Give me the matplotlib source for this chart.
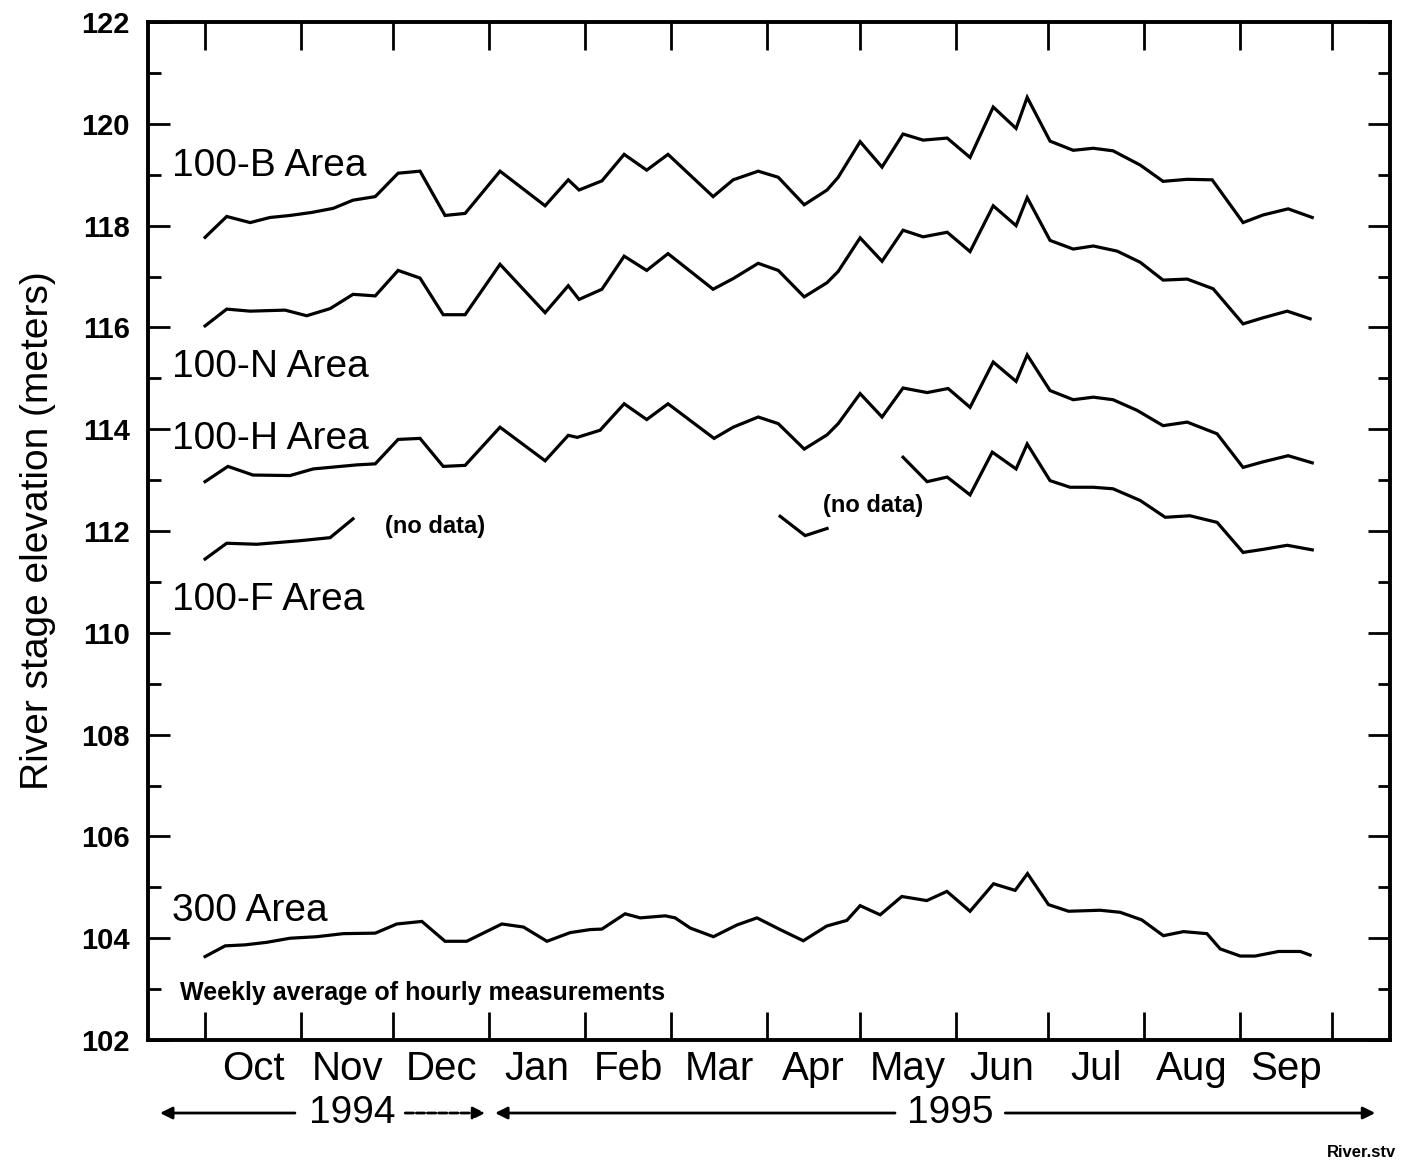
from datetime import date
import numpy as np
import matplotlib
matplotlib.use("Agg")
import matplotlib.pyplot as plt
from matplotlib.ticker import FixedLocator, MultipleLocator

plt.rcParams['font.family'] = ['Liberation Sans', 'DejaVu Sans']

# x values: days since 1 Oct 1994
b_days = [0, 7.0, 14.6, 21.0, 27.5, 34.6, 41.5, 47.9, 55.1, 62.5, 69.6, 77.7, 84.2, 95.5,
          110.1, 117.6, 121.1, 128.5, 135.7, 143.0, 149.9, 164.5, 171.0, 179.1, 185.6,
          194.0, 201.4, 205.0, 212.1, 219.2, 226.0, 232.5, 240.3, 247.7, 255.2, 262.6,
          266.2, 273.6, 281.1, 287.6, 294.0, 302.8, 310.2, 318.0, 326.1, 336.1, 342.6,
          350.7, 358.5]
b_stage = [117.77, 118.18, 118.06, 118.16, 118.20, 118.26, 118.34, 118.50, 118.57, 119.03,
           119.07, 118.20, 118.24, 119.07, 118.39, 118.90, 118.70, 118.88, 119.40, 119.09,
           119.40, 118.57, 118.90, 119.07, 118.95, 118.41, 118.70, 118.95, 119.65, 119.15,
           119.80, 119.68, 119.72, 119.34, 120.33, 119.91, 120.52, 119.66, 119.48, 119.52,
           119.47, 119.19, 118.87, 118.91, 118.90, 118.06, 118.21, 118.33, 118.16]

n_days = [0, 7.0, 14.6, 25.9, 32.9, 40.5, 47.9, 55.1, 62.5, 69.6, 77.1, 84.2, 95.5, 110.1,
          117.6, 121.1, 128.5, 135.7, 143.0, 149.9, 164.5, 171.0, 179.1, 185.6, 194.0,
          201.4, 205.0, 212.1, 219.2, 226.0, 232.5, 240.3, 247.7, 255.2, 262.6, 266.2,
          273.6, 281.1, 287.6, 295.3, 302.8, 310.2, 318.0, 326.4, 336.1, 342.6, 350.4, 357.8]
n_stage = [116.03, 116.36, 116.32, 116.34, 116.23, 116.37, 116.65, 116.62, 117.12, 116.97,
           116.25, 116.25, 117.24, 116.29, 116.82, 116.55, 116.75, 117.40, 117.12, 117.45,
           116.75, 116.96, 117.26, 117.12, 116.60, 116.88, 117.10, 117.76, 117.30, 117.91,
           117.78, 117.87, 117.49, 118.39, 118.00, 118.55, 117.71, 117.54, 117.60, 117.50,
           117.28, 116.93, 116.95, 116.76, 116.07, 116.19, 116.32, 116.17]

h_days = [0, 7.4, 15.5, 27.5, 35.0, 49.2, 55.1, 62.5, 69.6, 77.1, 84.2, 95.5, 110.1, 117.6,
          120.5, 127.9, 135.7, 143.0, 149.9, 164.8, 171.0, 179.1, 185.6, 194.0, 201.4,
          205.0, 212.1, 219.2, 226.0, 233.8, 240.6, 247.7, 255.2, 262.6, 266.2, 273.6,
          281.1, 287.6, 294.0, 301.8, 310.2, 318.0, 327.7, 336.1, 342.6, 350.7, 358.5]
h_stage = [112.97, 113.27, 113.10, 113.09, 113.22, 113.30, 113.32, 113.80, 113.82, 113.27,
           113.29, 114.04, 113.38, 113.88, 113.84, 113.98, 114.50, 114.19, 114.50, 113.82,
           114.04, 114.24, 114.11, 113.61, 113.89, 114.11, 114.70, 114.24, 114.81, 114.72,
           114.80, 114.43, 115.32, 114.94, 115.46, 114.76, 114.58, 114.63, 114.58, 114.37,
           114.07, 114.14, 113.91, 113.25, 113.36, 113.48, 113.34]

# 100-F has two gaps (no data), marked with NaN
f_days = [0, 7.0, 16.7, 30.8, 40.5, 47.9, 100.0,
          186.2, 194.3, 201.4, 214.0,
          226.0, 233.8, 240.3, 247.7, 254.9, 262.6, 266.2, 273.6, 280.1, 287.6, 294.0,
          302.8, 310.9, 318.9, 327.7, 336.1, 342.6, 350.4, 358.5]
f_stage = [111.45, 111.76, 111.74, 111.81, 111.87, 112.24, np.nan,
           112.29, 111.91, 112.05, np.nan,
           113.45, 112.97, 113.06, 112.71, 113.55, 113.22, 113.71, 112.99, 112.86, 112.86,
           112.83, 112.60, 112.27, 112.30, 112.17, 111.58, 111.64, 111.72, 111.63]

a300_days = [0, 6.5, 13.0, 20.0, 27.5, 36.2, 44.7, 55.1, 62.1, 70.2, 77.7, 84.7, 96.1, 103.1,
             110.7, 118.2, 124.7, 128.5, 136.0, 140.9, 149.0, 152.2, 157.1, 164.6, 172.2,
             178.7, 186.2, 193.7, 201.3, 207.8, 212.1, 218.6, 225.6, 233.7, 240.2, 247.7,
             255.3, 262.3, 266.3, 273.1, 279.6, 289.8, 296.3, 303.3, 310.3, 316.8, 324.4,
             328.7, 335.2, 340.0, 347.6, 354.6, 357.8]
a300_stage = [103.64, 103.85, 103.87, 103.92, 104.00, 104.03, 104.09, 104.10, 104.28, 104.33,
              103.94, 103.94, 104.28, 104.22, 103.94, 104.11, 104.17, 104.18, 104.48, 104.40,
              104.44, 104.40, 104.20, 104.03, 104.26, 104.40, 104.17, 103.95, 104.24, 104.35,
              104.64, 104.46, 104.82, 104.74, 104.92, 104.53, 105.07, 104.94, 105.27, 104.66,
              104.53, 104.55, 104.51, 104.36, 104.05, 104.13, 104.09, 103.79, 103.65, 103.65,
              103.74, 103.74, 103.67]

month_names = ['Oct', 'Nov', 'Dec', 'Jan', 'Feb', 'Mar', 'Apr', 'May', 'Jun', 'Jul', 'Aug', 'Sep']
start = date(1994, 10, 1)
month_starts = [(date(1994 + (9 + i) // 12, (9 + i) % 12 + 1, 1) - start).days for i in range(13)]
month_mids = [(a + b) / 2 for a, b in zip(month_starts[:-1], month_starts[1:])]

fig = plt.figure(figsize=(14.01, 11.72), dpi=100)
ax = fig.add_axes([0.1056, 0.1126, 0.8866, 0.8686])

for d, s in [(b_days, b_stage), (n_days, n_stage), (h_days, h_stage),
             (f_days, f_stage), (a300_days, a300_stage)]:
    ax.plot(d, s, color='black', lw=2.3, solid_joinstyle='miter')

ax.set_xlim(-18.5, 383.7)
ax.set_ylim(102, 122)

ax.xaxis.set_major_locator(FixedLocator(month_starts))
ax.xaxis.set_minor_locator(FixedLocator(month_mids))
ax.set_xticklabels([], minor=False)
ax.set_xticklabels(month_names, minor=True)
ax.tick_params(axis='x', which='major', direction='in', length=20, width=2, top=True)
ax.tick_params(axis='x', which='minor', length=0, pad=7, labelsize=29)

ax.yaxis.set_major_locator(MultipleLocator(2))
ax.yaxis.set_minor_locator(MultipleLocator(1))
ax.tick_params(axis='y', which='major', direction='in', length=16, width=2, right=True,
               labelsize=21, pad=13)
ax.tick_params(axis='y', which='minor', direction='in', length=9, width=2, right=True)
for lab in ax.get_yticklabels():
    lab.set_fontweight('bold')

for sp in ax.spines.values():
    sp.set_linewidth(2.8)

ax.set_ylabel('River stage elevation (meters)', fontsize=28)
ax.yaxis.set_label_coords(-0.074, 0.5)

label_kw = dict(fontsize=28, va='center', ha='left')
ax.text(-10.7, 119.17, '100-B Area', **label_kw)
ax.text(-10.7, 115.23, '100-N Area', **label_kw)
ax.text(-10.7, 113.81, '100-H Area', **label_kw)
ax.text(-10.7, 110.64, '100-F Area', **label_kw)
ax.text(-10.7, 104.54, '300 Area', **label_kw)
ax.text(58.3, 112.08, '(no data)', fontsize=17, fontweight='bold', va='center')
ax.text(200.1, 112.51, '(no data)', fontsize=17, fontweight='bold', va='center')
ax.text(-8.1, 102.93, 'Weekly average of hourly measurements', fontsize=18,
        fontweight='bold', va='center')

# year spans under the month labels
tr = ax.get_xaxis_transform()
yy = -0.0717
arrow = dict(arrowstyle='-|>', lw=2, color='black', mutation_scale=18, shrinkA=0, shrinkB=0)
ax.annotate('', xy=(-14.6, yy), xytext=(29.1, yy), xycoords=tr, textcoords=tr,
            arrowprops=arrow, annotation_clip=False)
ax.annotate('', xy=(90.7, yy), xytext=(64.8, yy), xycoords=tr, textcoords=tr,
            arrowprops=dict(arrow, linestyle=(0, (3, 1))), annotation_clip=False)
ax.annotate('', xy=(93.9, yy), xytext=(223.4, yy), xycoords=tr, textcoords=tr,
            arrowprops=arrow, annotation_clip=False)
ax.annotate('', xy=(378.9, yy), xytext=(259.1, yy), xycoords=tr, textcoords=tr,
            arrowprops=arrow, annotation_clip=False)
ax.text(47.6, yy, '1994', transform=tr, fontsize=28, ha='center', va='center')
ax.text(241.3, yy, '1995', transform=tr, fontsize=28, ha='center', va='center')

fig.text(0.972, 0.017, 'River.stv', fontsize=12, fontweight='bold', ha='center', va='center')

fig.savefig('out.png', dpi=100)
